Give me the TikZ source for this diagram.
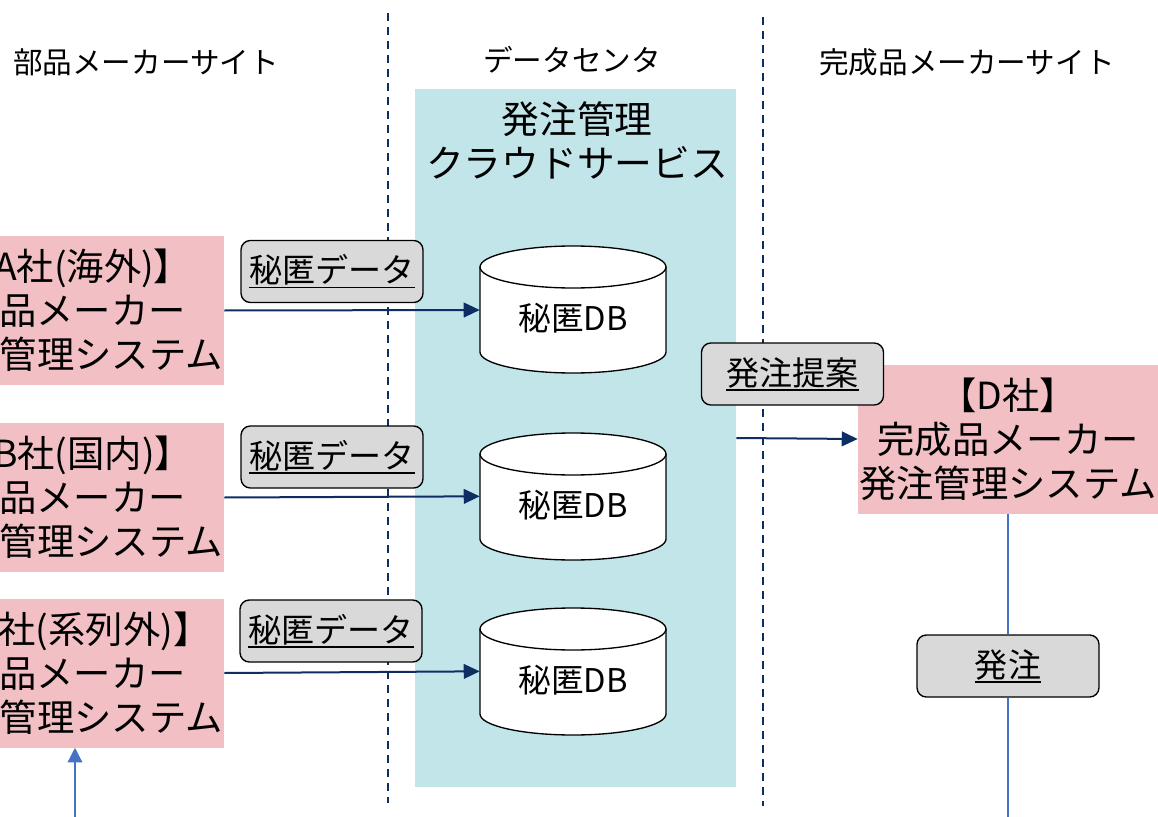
\documentclass[tikz,border=0pt]{standalone}
\usepackage{fontspec}
\setmainfont{Noto Sans CJK JP}
\usetikzlibrary{arrows.meta}

\definecolor{cloudblue}{HTML}{C2E5EA}
\definecolor{pinkbox}{HTML}{F2C0C4}
\definecolor{tagfill}{HTML}{D9D9D9}
\definecolor{navy}{HTML}{0E2D63}
\definecolor{linkblue}{HTML}{4472C4}

% thick underline for the data tags
\newsavebox\ulsave
\newcommand\ulbox[1]{\sbox\ulsave{#1}\rlap{\usebox\ulsave}\rule[-0.17em]{\wd\ulsave}{1.3pt}}

\begin{document}
\begin{tikzpicture}[x=0.75pt,y=0.75pt,
  header/.style={inner sep=0pt,font=\fontsize{22.2pt}{26pt}\selectfont},
  system/.style={rectangle,fill=pinkbox,minimum width=225pt,minimum height=111.75pt,
    align=center,inner sep=0pt,font=\fontsize{28pt}{33pt}\selectfont},
  tag/.style={rectangle,rounded corners=7pt,draw=black,line width=1pt,fill=tagfill,
    minimum width=136.5pt,minimum height=46.5pt,inner sep=0pt,
    font=\fontsize{24.8pt}{28pt}\selectfont},
  dbtext/.style={minimum width=139.5pt,inner sep=0pt,font=\fontsize{24.5pt}{28pt}\selectfont},
  cyl/.style={draw=black,line width=1pt,fill=white},
  sitesep/.style={draw=navy,line width=1.5pt,dash pattern=on 6pt off 4.5pt},
  flow/.style={draw=navy,line width=1.5pt,-{Triangle[length=12pt,width=11pt]}},
  link/.style={draw=linkblue,line width=1pt},
]
\useasboundingbox (0,0) rectangle (1158,-817);
\clip (0,0) rectangle (1158,-817);

% cloud service area
\node[rectangle,fill=cloudblue,minimum width=240.75pt,minimum height=523.5pt,inner sep=0pt]
  (cloud) at (575.5,-438) {};
\node[align=center,inner sep=0pt,font=\fontsize{28.3pt}{33pt}\selectfont]
  (cloudtitle) at (577,-140) {発注管理\\クラウドサービス};

% site separators
\draw[sitesep] (388,-13) -- (388,-803);
\draw[sitesep] (763,-17) -- (763,-806);

% site headers
\node[header] (hparts) at (146,-62) {部品メーカーサイト};
\node[header] (hdc) at (572,-60) {データセンタ};
\node[header] (hmaker) at (967,-62) {完成品メーカーサイト};

% supplier systems
\node[system] (pA) at (74,-310.5) {【A社(海外)】\\部品メーカー\\発注管理システム};
\node[system] (pB) at (74,-497.5) {【B社(国内)】\\部品メーカー\\発注管理システム};
\node[system] (pC) at (74,-673) {【C社(系列外)】\\部品メーカー\\発注管理システム};

% manufacturer system
\node[system] (pD) at (1008,-439) {【D社】\\完成品メーカー\\発注管理システム};

% secret databases
\foreach \c/\y in {cA/318,cB/505,cC/680} {
  \coordinate (\c) at (573,-\y);
  \draw[cyl] (\c) ++(-93,51) -- ++(0,-85)
    arc[start angle=180,end angle=360,x radius=93,y radius=21] -- ++(0,85)
    arc[start angle=0,end angle=180,x radius=93,y radius=21] -- cycle;
  \draw[line width=1pt] (\c) ++(-93,51)
    arc[start angle=180,end angle=360,x radius=93,y radius=21];
}
\node[dbtext] (dbA) at (cA) {秘匿DB};
\node[dbtext] (dbB) at (cB) {秘匿DB};
\node[dbtext] (dbC) at (cC) {秘匿DB};

% data flows
\draw[flow] (pA.east) -- ([yshift=6pt]dbA.west);
\draw[flow] (pB.east) -- ([yshift=6.5pt]dbB.west);
\draw[flow] (pC.east) -- ([yshift=6.5pt]dbC.west);
\draw[flow] (cloud.east) -- (pD.west);

% tags
\node[tag] (tA) at (332,-271.5) {\ulbox{秘匿データ}};
\node[tag] (tB) at (332,-457) {\ulbox{秘匿データ}};
\node[tag] (tC) at (331,-631) {\ulbox{秘匿データ}};
\node[tag] (tP) at (792.5,-374) {\ulbox{発注提案}};

% order path on the manufacturer side
\coordinate (orderend) at (1008,-817);
\coordinate (supplyend) at (75,-817);
\node[tag] (tO) at (1008,-666) {\ulbox{発注}};
\draw[link] (pD.south) -- (tO.north);
\draw[link] (tO.south) -- (orderend);
\draw[link,-{Triangle[length=11pt,width=11pt]}] (supplyend) -- (supplyend |- pC.south);
\end{tikzpicture}
\end{document}
